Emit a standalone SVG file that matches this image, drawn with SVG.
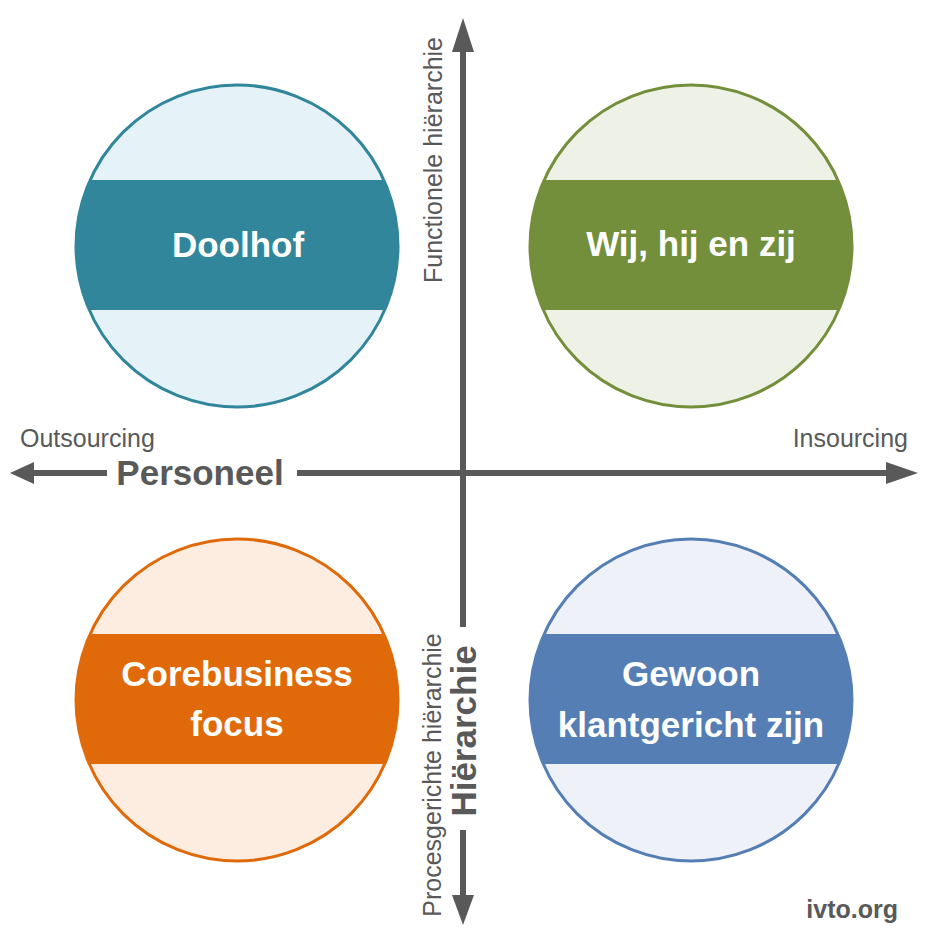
<svg xmlns="http://www.w3.org/2000/svg" width="931" height="948" viewBox="0 0 931 948">
<style>
.axis{stroke:#595959;stroke-width:6;fill:none}
.head{fill:#595959}
.lbl{font-family:"Liberation Sans",Arial,sans-serif;fill:#595959;font-size:25px}
.big{font-family:"Liberation Sans",Arial,sans-serif;fill:#595959;font-weight:bold;font-size:35px}
.ttl{font-family:"Liberation Sans",Arial,sans-serif;fill:#ffffff;font-weight:bold;font-size:35px;text-anchor:middle}
</style>
<defs>
<clipPath id="c1"><circle cx="237" cy="246" r="161"/></clipPath>
<clipPath id="c2"><circle cx="691" cy="246" r="161"/></clipPath>
<clipPath id="c3"><circle cx="237" cy="700" r="161"/></clipPath>
<clipPath id="c4"><circle cx="691" cy="700" r="161"/></clipPath>
</defs>
<rect width="931" height="948" fill="#ffffff"/>

<g id="connectors">
<line class="axis" x1="30" y1="473" x2="107" y2="473"/>
<line class="axis" x1="297" y1="473" x2="890" y2="473"/>
<polygon class="head" points="10,473 34,462 34,484"/>
<polygon class="head" points="918,473 886,462 886,484"/>
<line class="axis" x1="463" y1="48" x2="463" y2="627"/>
<line class="axis" x1="463" y1="830" x2="463" y2="900"/>
<polygon class="head" points="463,18 452,52 474,52"/>
<polygon class="head" points="463,925 452,895 474,895"/>
</g>

<g id="axis-labels">
<text class="lbl" x="20" y="447">Outsourcing</text>
<text class="lbl" x="908" y="447" text-anchor="end">Insourcing</text>
<text class="big" x="200" y="485" text-anchor="middle">Personeel</text>
<text class="lbl" transform="translate(442,160) rotate(-90)" text-anchor="middle" font-size="27">Functionele hiërarchie</text>
<text class="lbl" transform="translate(441,775) rotate(-90)" text-anchor="middle">Procesgerichte hiërarchie</text>
<text class="big" transform="translate(476,731) rotate(-90)" text-anchor="middle">Hiërarchie</text>
</g>

<g id="doolhof">
<circle cx="237" cy="246" r="161" fill="#E5F3F8"/>
<rect x="70" y="180" width="340" height="130" fill="#31869B" clip-path="url(#c1)"/>
<circle cx="237" cy="246" r="161" fill="none" stroke="#31869B" stroke-width="3"/>
<text class="ttl" x="238" y="257">Doolhof</text>
</g>

<g id="wij-hij-en-zij">
<circle cx="691" cy="246" r="161" fill="#EEF2E6"/>
<rect x="524" y="180" width="340" height="130" fill="#748F3B" clip-path="url(#c2)"/>
<circle cx="691" cy="246" r="161" fill="none" stroke="#748F3B" stroke-width="3"/>
<text class="ttl" x="691" y="256">Wij, hij en zij</text>
</g>

<g id="corebusiness-focus">
<circle cx="237" cy="700" r="161" fill="#FDEDE1"/>
<rect x="70" y="634" width="340" height="130" fill="#E06A0A" clip-path="url(#c3)"/>
<circle cx="237" cy="700" r="161" fill="none" stroke="#E06A0A" stroke-width="3"/>
<text class="ttl" x="237" y="686">Corebusiness</text>
<text class="ttl" x="237" y="736">focus</text>
</g>

<g id="gewoon-klantgericht-zijn">
<circle cx="691" cy="700" r="161" fill="#EEF1F7"/>
<rect x="524" y="634" width="340" height="130" fill="#547EB4" clip-path="url(#c4)"/>
<circle cx="691" cy="700" r="161" fill="none" stroke="#547EB4" stroke-width="3"/>
<text class="ttl" x="691" y="686">Gewoon</text>
<text class="ttl" x="691" y="737">klantgericht zijn</text>
</g>

<text class="lbl" x="898" y="918" text-anchor="end" font-weight="bold" font-size="24">ivto.org</text>
</svg>
